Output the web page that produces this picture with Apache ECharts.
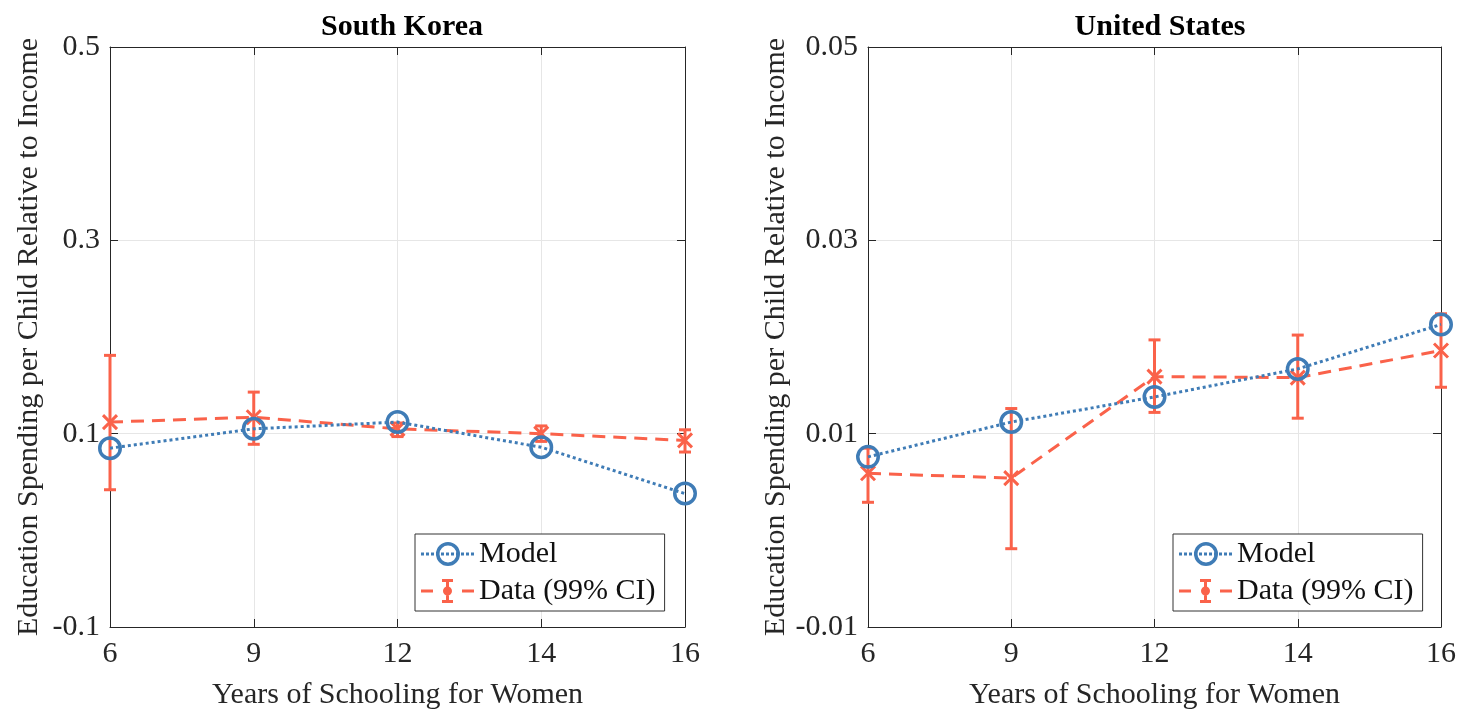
<!DOCTYPE html>
<html>
<head>
<meta charset="utf-8">
<title>Education Spending per Child</title>
<script src="https://cdn.jsdelivr.net/npm/echarts@6/dist/echarts.min.js"></script>
<style>
  html, body { margin: 0; padding: 0; background: #fff; }
  #chart { width: 1463px; height: 712px; }
</style>
</head>
<body>
<div id="chart"></div>
<script>
// Years of schooling (equally spaced categories)
const categories = ['6', '9', '12', '14', '16'];

// South Korea
const krModel = [0.085, 0.105, 0.112, 0.086, 0.038];
const krData  = [0.112, 0.117, 0.105, 0.100, 0.093];
const krLow   = [0.042, 0.089, 0.097, 0.092, 0.081];
const krHigh  = [0.181, 0.143, 0.111, 0.108, 0.104];
const krAxis  = { min: -0.1, max: 0.5, interval: 0.2 };

// United States
const usModel = [0.0076, 0.0112, 0.0138, 0.0167, 0.0213];
const usData  = [0.0059, 0.0054, 0.0159, 0.0158, 0.0186];
const usLow   = [0.0029, -0.0019, 0.0122, 0.0116, 0.0148];
const usHigh  = [0.0085, 0.0126, 0.0197, 0.0202, 0.0224];
const usAxis  = { min: -0.01, max: 0.05, interval: 0.02 };

const panelTitles = ['South Korea', 'United States'];
const xName = 'Years of Schooling for Women';
const yName = 'Education Spending per Child Relative to Income';
const modelName = 'Model';
const dataName = 'Data (99% CI)';

const BLUE = '#3f7cb6';
const RED = '#fa624a';
const FONT = "'Liberation Serif', 'Times New Roman', serif";
const FS = 30;

// Legend icons drawn as filled paths in a 53x24 box
function dots(y) {
  let s = '';
  for (let x = 0; x <= 50; x += 5) s += `M${x},${y}h3v3h-3z`;
  return s;
}
const modelIcon = 'path://' + dots(10.5) +
  'M15,12a12,12 0 1,1 24,0a12,12 0 1,1 -24,0z' +
  'M18.5,12a8.5,8.5 0 1,0 17,0a8.5,8.5 0 1,0 -17,0z';
const dataIcon = 'path://' +
  'M0,10.5h12v3h-12z M41,10.5h12v3h-12z' +
  'M25,1h3v22h-3z M21,0h11v3h-11z M21,21h11v3h-11z' +
  'M22,12a4.5,4.5 0 1,1 9,0a4.5,4.5 0 1,1 -9,0z';

// Hollow ring marker for the model, a cross for the data
const ringSymbol = 'path://M0,12a12,12 0 1,1 24,0a12,12 0 1,1 -24,0z M3.5,12a8.5,8.5 0 1,0 17,0a8.5,8.5 0 1,0 -17,0z';
const crossSymbol = 'path://M0,0L14,14M14,0L0,14';

const fmt = v => String(parseFloat(Number(v).toFixed(4)));

const grids = [
  { left: 110, right: 778, top: 47, bottom: 85, outerBoundsMode: 'none', containLabel: false },
  { left: 868, right: 22, top: 47, bottom: 85, outerBoundsMode: 'none', containLabel: false }
];

const AXIS_COLOR = '#262626';
const GRID_COLOR = '#e6e6e6';

const xAxes = [];
const yAxes = [];
[krAxis, usAxis].forEach((ax, g) => {
  // bottom axis with labels
  xAxes.push({
    type: 'category', gridIndex: g, data: categories, boundaryGap: false,
    position: 'bottom',
    name: xName, nameLocation: 'middle', nameGap: 53,
    nameTextStyle: { fontFamily: FONT, fontSize: FS, color: '#262626' },
    axisLine: { show: true, onZero: false, lineStyle: { color: AXIS_COLOR, width: 1 } },
    axisTick: { show: true, inside: true, length: 8, alignWithLabel: true, lineStyle: { color: AXIS_COLOR } },
    axisLabel: { fontFamily: FONT, fontSize: FS, color: '#262626', margin: 12 },
    splitLine: { show: true, lineStyle: { color: GRID_COLOR, width: 1 } }
  });
  // top box edge
  xAxes.push({
    type: 'category', gridIndex: g, data: categories, boundaryGap: false,
    position: 'top',
    axisLine: { show: true, onZero: false, lineStyle: { color: AXIS_COLOR, width: 1 } },
    axisTick: { show: true, inside: true, length: 8, lineStyle: { color: AXIS_COLOR } },
    axisLabel: { show: false },
    splitLine: { show: false }
  });
  // left axis with labels
  yAxes.push({
    type: 'value', gridIndex: g, position: 'left',
    min: ax.min, max: ax.max, interval: ax.interval,
    name: yName, nameLocation: 'middle', nameGap: 66, nameRotate: 90,
    nameTextStyle: { fontFamily: FONT, fontSize: FS, color: '#262626' },
    axisLine: { show: true, onZero: false, lineStyle: { color: AXIS_COLOR, width: 1 } },
    axisTick: { show: true, inside: true, length: 8, lineStyle: { color: AXIS_COLOR } },
    axisLabel: { fontFamily: FONT, fontSize: FS, color: '#262626', margin: 10, formatter: fmt },
    splitLine: { show: true, lineStyle: { color: GRID_COLOR, width: 1 } }
  });
  // right box edge
  yAxes.push({
    type: 'value', gridIndex: g, position: 'right',
    min: ax.min, max: ax.max, interval: ax.interval,
    axisLine: { show: true, onZero: false, lineStyle: { color: AXIS_COLOR, width: 1 } },
    axisTick: { show: true, inside: true, length: 8, lineStyle: { color: AXIS_COLOR } },
    axisLabel: { show: false },
    splitLine: { show: false }
  });
});

function errorBarSeries(g, low, high) {
  return {
    type: 'custom', name: dataName,
    xAxisIndex: g * 2, yAxisIndex: g * 2, z: 2,
    data: low.map((lo, i) => [i, lo, high[i]]),
    encode: { x: 0, y: [1, 2] },
    renderItem: function (params, api) {
      const i = api.value(0);
      const top = api.coord([i, api.value(2)]);
      const bot = api.coord([i, api.value(1)]);
      const hw = 6;
      const style = { stroke: RED, lineWidth: 3 };
      return {
        type: 'group',
        children: [
          { type: 'line', shape: { x1: top[0], y1: top[1], x2: bot[0], y2: bot[1] }, style },
          { type: 'line', shape: { x1: top[0] - hw, y1: top[1], x2: top[0] + hw, y2: top[1] }, style },
          { type: 'line', shape: { x1: bot[0] - hw, y1: bot[1], x2: bot[0] + hw, y2: bot[1] }, style }
        ]
      };
    }
  };
}

function dataSeries(g, values) {
  return {
    type: 'line', name: dataName,
    xAxisIndex: g * 2, yAxisIndex: g * 2, z: 3,
    data: values,
    symbol: crossSymbol, symbolSize: 14, showAllSymbol: true,
    itemStyle: { color: RED, borderColor: RED, borderWidth: 3 },
    lineStyle: { color: RED, width: 3, type: [13, 8] },
    emphasis: { disabled: true },
    animation: false
  };
}

function modelSeries(g, values) {
  return {
    type: 'line', name: modelName,
    xAxisIndex: g * 2, yAxisIndex: g * 2, z: 4,
    data: values,
    symbol: ringSymbol, symbolSize: 24, showAllSymbol: true,
    itemStyle: { color: BLUE, borderWidth: 0 },
    lineStyle: { color: BLUE, width: 3, type: [3, 3] },
    emphasis: { disabled: true },
    animation: false
  };
}

function legendAt(left) {
  return {
    left: left, top: 534, orient: 'vertical',
    padding: [5, 9, 5, 6],
    itemWidth: 53, itemHeight: 24, itemGap: 7,
    borderColor: '#333', borderWidth: 1, backgroundColor: '#fff',
    textStyle: { fontFamily: FONT, fontSize: FS, color: '#111', lineHeight: 30 },
    selectedMode: false,
    data: [
      { name: modelName, icon: modelIcon, itemStyle: { color: BLUE, borderWidth: 0 } },
      { name: dataName, icon: dataIcon, itemStyle: { color: RED, borderWidth: 0 } }
    ]
  };
}

const option = {
  backgroundColor: '#fff',
  animation: false,
  title: panelTitles.map((t, g) => ({
    text: t,
    left: g === 0 ? 397 : 1155, top: 7, textAlign: 'center',
    textStyle: { fontFamily: FONT, fontSize: FS, fontWeight: 'bold', color: '#000' }
  })),
  grid: grids,
  xAxis: xAxes,
  yAxis: yAxes,
  legend: [legendAt(415), legendAt(1173)],
  series: [
    errorBarSeries(0, krLow, krHigh), dataSeries(0, krData), modelSeries(0, krModel),
    errorBarSeries(1, usLow, usHigh), dataSeries(1, usData), modelSeries(1, usModel)
  ]
};

const chart = echarts.init(document.getElementById('chart'), null, { renderer: 'canvas' });
chart.setOption(option);
</script>
</body>
</html>
